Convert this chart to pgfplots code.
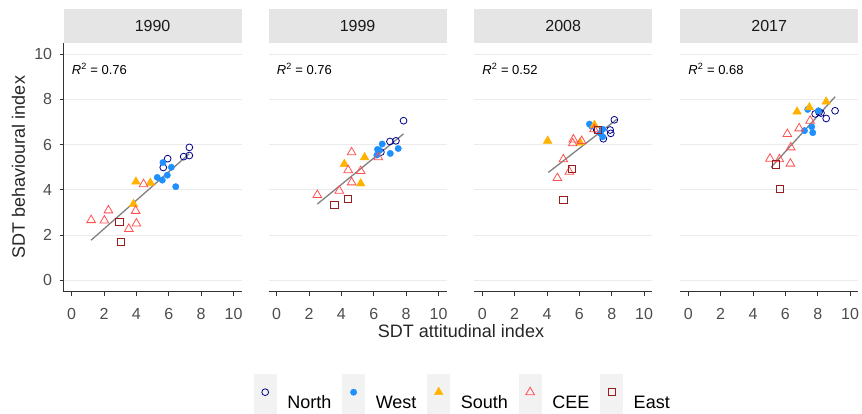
\documentclass[border=0pt]{standalone}
\usepackage{fontspec}
\setmainfont{Liberation Sans}
\usepackage{pgfplots}
\pgfplotsset{compat=1.18}
\definecolor{cNorth}{RGB}{0,0,139}
\definecolor{cWest}{RGB}{30,144,255}
\definecolor{cSouth}{RGB}{255,179,0}
\definecolor{cCEE}{RGB}{255,80,80}
\definecolor{cEast}{RGB}{150,30,30}
\definecolor{gridc}{RGB}{235,235,235}
\definecolor{stripc}{RGB}{229,229,229}
\definecolor{tickc}{RGB}{77,77,77}
\definecolor{axc}{RGB}{51,51,51}
\pgfplotsset{
  panel/.style={
    width=178pt, height=248.5pt, scale only axis,
    anchor=south west,
    xmin=-0.5, xmax=10.5, ymin=-0.5, ymax=10.5,
    xtick={0,2,...,10}, ytick={0,2,...,10},
    axis x line*=bottom, axis y line*=left,
    axis line style={-, color=axc, line width=0.8pt},
    tick align=outside, major tick length=4pt,
    tick style={color=axc, line width=0.8pt},
    ymajorgrids, major grid style={color=gridc, line width=0.8pt},
    /pgf/number format/assume math mode=true,
    ticklabel style={font=\fontsize{16}{18}\selectfont, color=tickc},
    xticklabel style={yshift=-9pt},
    yticklabel style={xshift=-4pt},
    clip=false,
  },
  noy/.style={y axis line style={draw=none}, ytick style={draw=none}, yticklabels={}},
  pN/.style={only marks, mark=o, color=cNorth, mark size=3.4pt, mark options={line width=0.8pt}},
  pW/.style={only marks, mark=*, color=cWest, mark size=3.2pt},
  pS/.style={only marks, mark=triangle*, color=cSouth, mark size=5pt},
  pC/.style={only marks, mark=triangle, color=cCEE, mark size=5pt, mark options={line width=0.8pt}},
  pE/.style={only marks, mark=square, color=cEast, mark size=3.6pt, mark options={line width=0.8pt}},
  pL/.style={no marks, color=gray, line width=1.3pt},
}
\newcommand{\rsq}[1]{\node[anchor=west, font=\fontsize{13}{15}\selectfont, inner sep=0pt] at (axis cs:0,9.35) {\textit{R}\textsuperscript{2} = #1};}
\begin{document}
\begin{tikzpicture}
\path[use as bounding box] (0,0) rectangle (862pt,-414pt);
% strips
\foreach \xl/\lab in {63.6/1990, 268.6/1999, 474.2/2008, 680.2/2017}{
  \fill[stripc] ({\xl*1pt},-9pt) rectangle ({(\xl+178)*1pt},-43pt);
  \node[font=\fontsize{16}{18}\selectfont, color=black!90] at ({(\xl+89)*1pt},-26pt) {\lab};
}
% 1990
\begin{axis}[panel, at={(63.6pt,-291.5pt)}]
\addplot[pN] coordinates {(7.27,5.88) (7.27,5.52) (6.92,5.47) (5.93,5.38) (5.66,4.99)};
\addplot[pW] coordinates {(5.64,5.21) (6.16,5.00) (5.91,4.65) (5.60,4.43) (5.29,4.55) (6.43,4.14)};
\addplot[pS] coordinates {(3.97,4.36) (4.86,4.31) (3.82,3.37)};
\addplot[pC] coordinates {(4.44,4.25) (3.95,3.07) (2.27,3.09) (1.20,2.66) (2.02,2.64) (4.00,2.51) (3.53,2.27)};
\addplot[pE] coordinates {(2.95,2.57) (3.06,1.68)};
\addplot[pL] coordinates {(1.2,1.77) (7.27,5.6)};
\rsq{0.76}
\end{axis}
% 1999
\begin{axis}[panel, noy, at={(268.6pt,-291.5pt)}]
\addplot[pN] coordinates {(7.84,7.06) (7.37,6.17) (7.00,6.14) (6.44,5.67)};
\addplot[pW] coordinates {(6.52,6.03) (6.23,5.79) (6.19,5.54) (7.02,5.61) (7.51,5.83) (6.35,5.75)};
\addplot[pS] coordinates {(5.43,5.44) (4.18,5.14) (5.19,4.28)};
\addplot[pC] coordinates {(4.63,5.66) (6.28,5.44) (4.42,4.87) (5.19,4.83) (4.63,4.33) (3.87,3.96) (2.51,3.77)};
\addplot[pE] coordinates {(4.38,3.59) (3.56,3.35)};
\addplot[pL] coordinates {(2.51,3.37) (7.84,6.48)};
\rsq{0.76}
\end{axis}
% 2008
\begin{axis}[panel, noy, at={(474.2pt,-291.5pt)}]
\addplot[pN] coordinates {(8.16,7.10) (7.90,6.65) (7.94,6.50) (7.48,6.26) (7.07,6.65)};
\addplot[pW] coordinates {(6.62,6.91) (6.76,6.82) (7.44,6.68) (7.44,6.35) (7.30,6.50)};
\addplot[pS] coordinates {(4.04,6.17) (6.04,6.09) (6.93,6.87)};
\addplot[pC] coordinates {(5.63,6.23) (5.59,6.06) (6.14,6.16) (6.91,6.68) (5.01,5.35) (5.38,4.80) (4.64,4.52)};
\addplot[pE] coordinates {(5.55,4.93) (7.13,6.65) (5.01,3.56)};
\addplot[pL] coordinates {(4.08,4.77) (8.31,7.12)};
\rsq{0.52}
\end{axis}
% 2017
\begin{axis}[panel, noy, at={(680.2pt,-291.5pt)}]
\addplot[pN] coordinates {(9.07,7.50) (8.52,7.16) (8.08,7.44) (7.84,7.36) (8.20,7.40)};
\addplot[pW] coordinates {(7.38,7.56) (8.04,7.50) (7.63,6.79) (7.69,6.53) (7.18,6.62)};
\addplot[pS] coordinates {(6.72,7.46) (7.48,7.65) (8.52,7.90)};
\addplot[pC] coordinates {(7.53,7.06) (6.85,6.72) (6.12,6.47) (6.33,5.88) (5.05,5.38) (5.63,5.35) (6.31,5.16)};
\addplot[pE] coordinates {(5.42,5.13) (5.67,4.03)};
\addplot[pL] coordinates {(5.11,4.99) (9.07,8.12)};
\rsq{0.68}
\end{axis}
% axis titles
\node[font=\fontsize{18}{20}\selectfont, color=black!85] at (461pt,-331pt) {SDT attitudinal index};
\node[font=\fontsize{18}{20}\selectfont, color=black!85, rotate=90] at (18.5pt,-167pt) {SDT behavioural index};
% legend
\begin{axis}[hide axis, scale only axis, width=862pt, height=40pt, anchor=south west, at={(0pt,-414pt)},
  xmin=0, xmax=1, ymin=0, ymax=1,
  legend columns=5,
  legend cell align=left,
  legend image code/.code={
    \fill[black!5] (0pt,-11pt) rectangle (22pt,29pt);
    \draw[#1] plot[only marks] coordinates {(11pt,11pt)};
  },
  legend style={at={(254/862,1)}, anchor=north west, draw=none, fill=none,
    inner sep=0pt, outer sep=0pt, row sep=0pt,
    font=\fontsize{18}{20}\selectfont,
    nodes={inner sep=0pt},
    /tikz/every odd column/.append style={column sep=11pt},
    /tikz/every even column/.append style={column sep=11pt}},
]
\addlegendimage{mark=o, color=cNorth, mark size=3.4pt, mark options={line width=0.8pt}}
\addlegendentry{North}
\addlegendimage{mark=*, color=cWest, mark size=3.2pt}
\addlegendentry{West}
\addlegendimage{mark=triangle*, color=cSouth, mark size=5pt}
\addlegendentry{South}
\addlegendimage{mark=triangle, color=cCEE, mark size=5pt, mark options={line width=0.8pt}}
\addlegendentry{CEE}
\addlegendimage{mark=square, color=cEast, mark size=3.6pt, mark options={line width=0.8pt}}
\addlegendentry{East}
\end{axis}
\end{tikzpicture}
\end{document}
